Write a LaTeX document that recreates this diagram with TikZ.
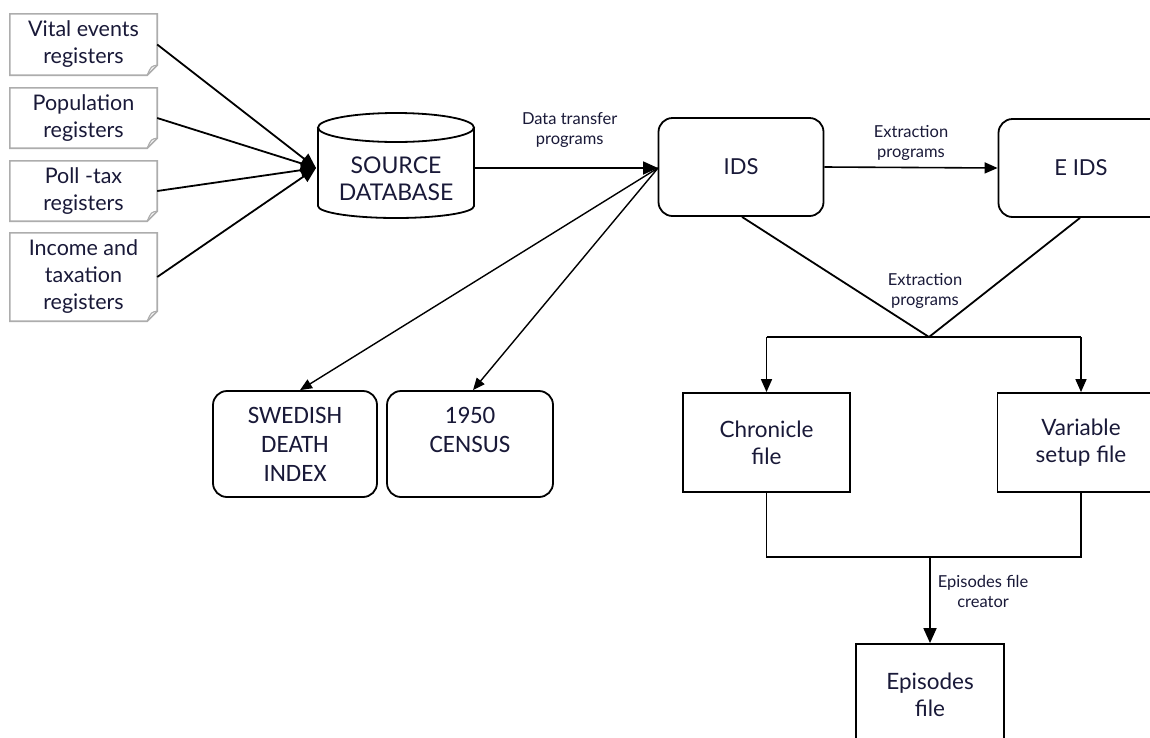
\documentclass[tikz,border=0pt]{standalone}
\usepackage{fontspec}
\setmainfont{Lato}
\newfontfamily\carl{Carlito}
\usetikzlibrary{arrows.meta,calc}
\definecolor{txt}{rgb}{0.10,0.10,0.22}
\definecolor{docgray}{rgb}{0.68,0.68,0.68}
\begin{document}
\begin{tikzpicture}[x=1pt,y=-1pt,
  every node/.style={text=txt,align=center,inner sep=0pt},
  doc/.style={minimum width=147pt,font=\fontsize{21.5}{27}\selectfont},
  rbox/.style={draw,line width=1.8pt,rounded corners=14pt,minimum width=165pt,minimum height=98pt},
  sbox/.style={draw,line width=1.8pt,minimum width=167pt,minimum height=99pt,font=\fontsize{22.5}{27}\selectfont},
  lab/.style={font=\fontsize{16.5}{20}\selectfont},
  thick line/.style={line width=1.8pt},
  bigarrow/.style={line width=1.8pt,-{Triangle[length=15pt,width=13pt]}},
  midarrow/.style={line width=1.6pt,-{Triangle[length=13pt,width=11pt]}},
  thinarrow/.style={line width=1.4pt,-{Triangle[length=12pt,width=10pt]}}
]
\useasboundingbox (0,0) rectangle (1150,737);
\clip (0,0) rectangle (1150,737);
\fill[white] (0,0) rectangle (1150,737);

% register documents
\node[doc,minimum height=61pt] (vit) at (83.5,44.5) {Vital events\\registers};
\node[doc,minimum height=60pt] (pop) at (83.5,118) {Population\\registers};
\node[doc,minimum height=60pt] (pol) at (83.5,191) {Poll -tax\\registers};
\node[doc,minimum height=88pt] (inc) at (83.5,277) {Income and\\taxation\\registers};
\foreach \n in {vit,pop,pol,inc}{
  \draw[docgray,line width=1.6pt] (\n.north west) -- (\n.north east) -- ($(\n.south east)+(0,-10)$) -- ($(\n.south east)+(-10,0)$) -- (\n.south west) -- cycle;
  \draw[docgray,line width=1.2pt] ($(\n.south east)+(0,-10)$) .. controls ($(\n.south east)+(-6,-9)$) .. ($(\n.south east)+(-10,0)$);
}

% source database cylinder
\draw[line width=1.8pt] (318,127.5) -- (318,206) arc[start angle=180,end angle=0,x radius=78,y radius=12] -- (474,127.5);
\draw[line width=1.8pt,fill=white] (396,127.5) ellipse [x radius=78, y radius=14.5];
\node[minimum width=157pt,minimum height=105pt] (src) at (396,165.5) {};
\node[font=\fontsize{23}{27}\selectfont] (srct) at (396,179) {SOURCE\\DATABASE};

\coordinate (srcin) at (316,168);
\foreach \n in {vit,pop,pol,inc}{
  \draw[bigarrow] (\n.east) -- (srcin);
}

% IDS and EIDS
\node[rbox,font=\fontsize{22}{27}\selectfont] (ids) at (741,167) {IDS};
\node[rbox,font=\fontsize{22}{27}\selectfont] (eids) at (1081,168) {E IDS};
\coordinate (idsin) at (658,168);
\draw[bigarrow] (474,168) -- (idsin) node[lab,pos=0.52,above=20pt] {Data transfer\\programs};
\draw[midarrow] (ids.east) -- (eids.west) node[lab,midway,above=6pt] {Extraction\\programs};

% Swedish death index / census
\node[rbox,minimum width=164pt,minimum height=106pt,font=\carl\fontsize{25}{29}\selectfont] (swe) at (295,444) {SWEDISH\\DEATH\\INDEX};
\node[rbox,minimum width=166pt,minimum height=106pt,font=\carl\fontsize{25}{29}\selectfont] (cen) at (470,444) {1950\\CENSUS\\ };
\draw[thinarrow] (idsin) -- (swe.north -| 300,0);
\draw[thinarrow] (idsin) -- (cen.north -| 473,0);

% extraction to files
\coordinate (j1) at (929,337);
\draw[thick line] ($(ids.south)+(1,0)$) -- (j1) -- ($(eids.south)+(-1,0)$);
\node[lab] at (925,291) {Extraction\\programs};
\node[sbox] (chr) at (766.5,442.5) {Chronicle\\file};
\node[sbox] (var) at (1081,442.5) {Variable\\setup file};
\draw[thick line] (chr.north |- j1) -- (var.north |- j1);
\draw[midarrow] (chr.north |- j1) -- (chr.north);
\draw[midarrow] (var.north |- j1) -- (var.north);

% episodes
\node[sbox,minimum width=148pt,minimum height=102pt] (epi) at (930,695) {Episodes\\file};
\coordinate (j2) at (930,557);
\draw[thick line] (chr.south) -- (chr.south |- j2) -- (var.south |- j2) -- (var.south);
\draw[bigarrow] (j2) -- (epi.north) node[lab,pos=0.4,right=7pt] {Episodes file\\creator};
\end{tikzpicture}
\end{document}
